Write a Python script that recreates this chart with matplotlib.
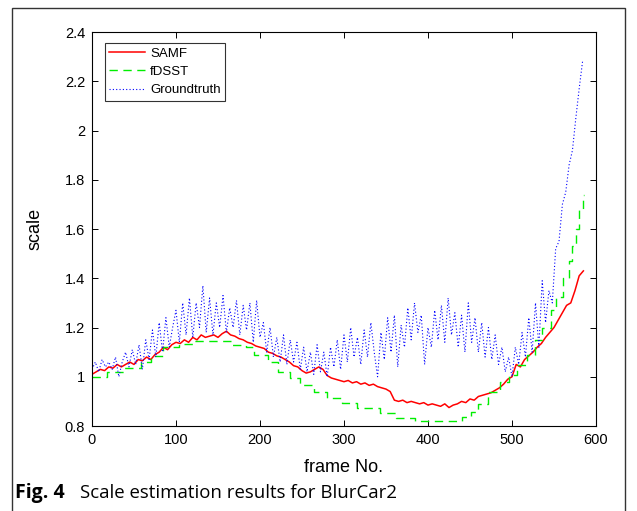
import numpy as np
import matplotlib
matplotlib.use("Agg")
import matplotlib.pyplot as plt
from matplotlib.patches import Rectangle

# SAMF estimated scale, sampled every 5 frames
samf_frames = np.arange(0, 590, 5)
samf_scale = [
    1.01, 1.02, 1.03, 1.025, 1.04, 1.035, 1.05, 1.04, 1.05, 1.06,
    1.05, 1.07, 1.065, 1.08, 1.07, 1.09, 1.10, 1.12, 1.11, 1.13,
    1.14, 1.135, 1.15, 1.14, 1.16, 1.15, 1.17, 1.16, 1.165, 1.17,
    1.16, 1.175, 1.185, 1.17, 1.165, 1.155, 1.15, 1.14, 1.135, 1.125,
    1.12, 1.115, 1.10, 1.095, 1.085, 1.08, 1.07, 1.06, 1.045, 1.04,
    1.025, 1.015, 1.02, 1.03, 1.04, 1.03, 1.005, 0.995, 0.99, 0.985,
    0.98, 0.985, 0.975, 0.98, 0.97, 0.975, 0.965, 0.97, 0.96, 0.955,
    0.95, 0.94, 0.905, 0.90, 0.905, 0.895, 0.90, 0.895, 0.89, 0.895,
    0.885, 0.89, 0.885, 0.88, 0.89, 0.875, 0.885, 0.89, 0.90, 0.895,
    0.91, 0.905, 0.92, 0.925, 0.93, 0.935, 0.945, 0.955, 0.97, 0.99,
    1.00, 1.05, 1.04, 1.07, 1.085, 1.10, 1.12, 1.135, 1.16, 1.18,
    1.20, 1.23, 1.26, 1.29, 1.30, 1.35, 1.41, 1.43,
]

# fDSST estimated scale, piecewise constant: frame where each level starts
fdsst_frames = [0, 18, 38, 58, 70, 85, 104, 121, 167, 183, 193, 209, 222,
                236, 248, 264, 280, 298, 315, 343, 362, 385, 440, 451, 460,
                472, 486, 497, 506, 518, 528, 536, 546, 553, 561, 568, 572,
                576, 580, 584, 586]
fdsst_scale = [1.00, 1.02, 1.035, 1.06, 1.085, 1.12, 1.135, 1.145, 1.13,
               1.12, 1.09, 1.06, 1.02, 0.995, 0.967, 0.937, 0.915, 0.895,
               0.874, 0.854, 0.834, 0.822, 0.838, 0.858, 0.89, 0.94, 0.98,
               1.007, 1.048, 1.09, 1.15, 1.20, 1.27, 1.325, 1.40, 1.47,
               1.53, 1.60, 1.68, 1.74, 1.74]

# ground truth scale, sampled every 4 frames
gt_frames = np.arange(0, 588, 4)
gt_scale = [
    1.03, 1.06, 1.02, 1.07, 1.04, 1.06, 1.03, 1.08, 1.00, 1.06,
    1.10, 1.04, 1.11, 1.05, 1.13, 1.03, 1.15, 1.07, 1.19, 1.08,
    1.22, 1.10, 1.24, 1.12, 1.20, 1.27, 1.14, 1.30, 1.17, 1.32,
    1.16, 1.30, 1.20, 1.37, 1.18, 1.32, 1.17, 1.30, 1.20, 1.33,
    1.18, 1.28, 1.20, 1.31, 1.17, 1.29, 1.19, 1.30, 1.14, 1.31,
    1.16, 1.22, 1.10, 1.20, 1.08, 1.16, 1.06, 1.17, 1.05, 1.15,
    1.06, 1.14, 1.03, 1.12, 1.02, 1.10, 1.01, 1.13, 1.02, 1.10,
    1.00, 1.12, 1.04, 1.15, 1.03, 1.17, 1.06, 1.20, 1.08, 1.16,
    1.05, 1.19, 1.08, 1.22, 1.10, 1.00, 1.18, 1.07, 1.24, 1.10,
    1.25, 1.04, 1.21, 1.12, 1.28, 1.15, 1.30, 1.18, 1.25, 1.05,
    1.20, 1.12, 1.27, 1.15, 1.29, 1.14, 1.32, 1.17, 1.26, 1.12,
    1.25, 1.10, 1.30, 1.14, 1.24, 1.10, 1.22, 1.08, 1.20, 1.07,
    1.17, 1.05, 1.12, 1.02, 1.08, 1.00, 1.12, 1.05, 1.18, 1.08,
    1.24, 1.10, 1.30, 1.12, 1.39, 1.22, 1.35, 1.30, 1.52, 1.55,
    1.70, 1.75, 1.86, 1.92, 2.05, 2.17, 2.28,
]

plt.rcParams['font.family'] = ['Liberation Sans', 'DejaVu Sans']

fig = plt.figure(figsize=(6.37, 5.11), dpi=100)
ax = fig.add_axes([0.1444, 0.1663, 0.7912, 0.771])

ax.plot(samf_frames, samf_scale, color='#ff0000', lw=1.1, label='SAMF')
ax.step(fdsst_frames, fdsst_scale, where='post', color='#00ee00', lw=1.0,
        linestyle=(0, (6, 4)), label='fDSST')
ax.plot(gt_frames, gt_scale, color='#0000ff', lw=0.8,
        linestyle=(0, (1, 2)), label='Groundtruth')

ax.set_xlim(0, 600)
ax.set_ylim(0.8, 2.4)
ax.set_xticks(np.arange(0, 601, 100))
ax.set_yticks(np.arange(0.8, 2.41, 0.2))
ax.set_yticklabels(['0.8', '1', '1.2', '1.4', '1.6', '1.8', '2', '2.2', '2.4'])
ax.tick_params(direction='in', top=True, right=True, labelsize=10.5,
               length=4, width=0.7, pad=5)
for s in ax.spines.values():
    s.set_linewidth(0.8)

ax.set_xlabel('frame No.', fontsize=13, labelpad=9)
ax.set_ylabel('scale', fontsize=13, labelpad=15)

leg = ax.legend(loc='upper left', bbox_to_anchor=(0.025, 0.972), fontsize=9.5,
                frameon=True, fancybox=False, edgecolor='black',
                handlelength=2.7, handletextpad=0.4, labelspacing=0.45,
                borderpad=0.35, borderaxespad=0)
leg.get_frame().set_linewidth(0.8)

# caption and frame around the whole figure
fig.text(0.024, 0.026, 'Fig. 4', fontsize=14, fontweight='bold',
         family=['Open Sans', 'DejaVu Sans'], va='baseline')
fig.text(0.126, 0.026, 'Scale estimation results for BlurCar2', fontsize=13.4,
         family=['Open Sans', 'DejaVu Sans'], va='baseline')
fig.patches.append(Rectangle((12 / 637, -0.05), 613 / 637, 1.05 - 8 / 511,
                             transform=fig.transFigure, fill=False,
                             edgecolor='#333333', linewidth=1.0))

fig.savefig('out.png', dpi=100)
